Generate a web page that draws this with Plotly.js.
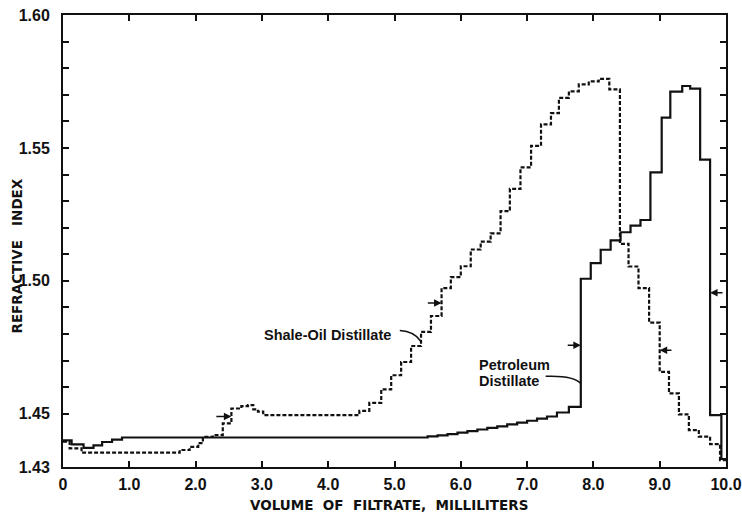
<!DOCTYPE html>
<html>
<head>
<meta charset="utf-8">
<script src="https://cdn.plot.ly/plotly-3.0.1.min.js"></script>
<style>
  html, body { margin: 0; padding: 0; background: #ffffff; }
  #chart { width: 742px; height: 514px; }
</style>
</head>
<body>
<div id="chart"></div>
<script>
// Fraction boundaries (ml) and refractive index of each collected fraction
const shaleEdges = [0, 0.10, 0.28, 1.76, 1.91, 2.04, 2.11, 2.26, 2.41, 2.54,
  2.69, 2.79, 2.87, 2.94, 3.02, 4.47, 4.62, 4.80, 4.95, 5.10,
  5.25, 5.40, 5.55, 5.71, 5.85, 6.00, 6.15, 6.30, 6.45, 6.60,
  6.74, 6.90, 7.06, 7.21, 7.36, 7.48, 7.63, 7.78, 7.93, 8.08,
  8.24, 8.40, 8.53, 8.68, 8.84, 9.00, 9.14, 9.29, 9.44, 9.59,
  9.76, 9.91];
const shaleRI = [1.4395, 1.4370, 1.4354, 1.4364, 1.4376, 1.4390, 1.4413, 1.4420, 1.4464, 1.4520,
  1.4529, 1.4533, 1.4517, 1.4508, 1.4495, 1.4511, 1.4541, 1.4592, 1.4645, 1.4695,
  1.4755, 1.4808, 1.4868, 1.4973, 1.5014, 1.5055, 1.5118, 1.5148, 1.5179, 1.5262,
  1.5346, 1.5427, 1.5508, 1.5589, 1.5631, 1.5688, 1.5713, 1.5739, 1.5750, 1.5760,
  1.5720, 1.5139, 1.5054, 1.4973, 1.4843, 1.4658, 1.4577, 1.4498, 1.4439, 1.4414,
  1.4386, 1.4326];

const petroEdges = [0, 0.13, 0.31, 0.46, 0.59, 0.74, 0.89, 5.50, 5.65, 5.80,
  5.95, 6.10, 6.25, 6.40, 6.55, 6.70, 6.85, 7.00, 7.15, 7.30,
  7.45, 7.63, 7.81, 7.96, 8.11, 8.26, 8.41, 8.56, 8.71, 8.86,
  9.03, 9.16, 9.34, 9.46, 9.61, 9.76, 9.93];
const petroRI = [1.4400, 1.4385, 1.4372, 1.4381, 1.4394, 1.4403, 1.4411, 1.4415, 1.4419, 1.4424,
  1.4429, 1.4435, 1.4441, 1.4447, 1.4453, 1.4460, 1.4467, 1.4474, 1.4482, 1.4490,
  1.4505, 1.4526, 1.5008, 1.5067, 1.5117, 1.5152, 1.5183, 1.5208, 1.5229, 1.5408,
  1.5614, 1.5712, 1.5733, 1.5723, 1.5456, 1.4495, 1.4330];

const totalVolume = 10.0;

// Half-way markers: [head x, tail x, refractive index]
const shaleMarks = [[2.54, 2.29, 1.4490], [5.71, 5.48, 1.4917], [9.00, 9.20, 1.4739]];
const petroMarks = [[7.81, 7.59, 1.4758], [9.76, 9.97, 1.4955]];

// Axis ticks
const xTickVals = [0, 1, 2, 3, 4, 5, 6, 7, 8, 9, 10];
const xTickText = ['0', '1.0', '2.0', '3.0', '4.0', '5.0', '6.0', '7.0', '8.0', '9.0', '10.0'];
const yTickVals = [1.43, 1.45, 1.46, 1.47, 1.48, 1.49, 1.50, 1.51, 1.52, 1.53, 1.54, 1.55, 1.56, 1.57, 1.58, 1.59, 1.60];
const yTickText = ['1.43', '1.45', '', '', '', '', '1.50', '', '', '', '', '1.55', '', '', '', '', '1.60'];

function stepTrace(edges, vals, dash) {
  return {
    x: edges.concat([totalVolume]),
    y: vals.concat([vals[vals.length - 1]]),
    mode: 'lines',
    line: { shape: 'hv', color: '#111111', width: 2.2, dash: dash },
    hoverinfo: 'skip',
    showlegend: false
  };
}

const ink = '#111111';
const labelFont = { family: 'Liberation Sans, Arial, sans-serif', size: 14.5, color: ink, weight: 'bold' };
const tickFont = { family: 'Liberation Sans, Arial, sans-serif', size: 16, color: ink, weight: 'bold' };
const titleFont = { family: 'DejaVu Sans, Verdana, sans-serif', size: 13.5, color: ink, weight: 'bold' };

function markArrow(m) {
  return {
    x: m[0], y: m[2], ax: m[1], ay: m[2],
    xref: 'x', yref: 'y', axref: 'x', ayref: 'y',
    text: '', showarrow: true,
    arrowhead: 2, arrowsize: 1, arrowwidth: 1.5, arrowcolor: ink
  };
}

function textLabel(txt, x, y, xanchor) {
  return {
    x: x, y: y, xref: 'x', yref: 'y', text: txt,
    showarrow: false, font: labelFont, xanchor: xanchor, yanchor: 'middle'
  };
}

const data = [
  stepTrace(shaleEdges, shaleRI, '4px,2px'),
  stepTrace(petroEdges, petroRI, 'solid')
];

const annotations = shaleMarks.concat(petroMarks).map(markArrow).concat([
  textLabel('Shale-Oil Distillate', 4.98, 1.4796, 'right'),
  textLabel('Petroleum', 6.24, 1.4682, 'left'),
  textLabel('Distillate', 6.24, 1.4623, 'left'),
  // axis titles
  {
    x: 0.492, y: -0.084, xref: 'paper', yref: 'paper',
    text: 'VOLUME\u00a0 OF\u00a0 FILTRATE,\u00a0 MILLILITERS',
    showarrow: false, font: titleFont, xanchor: 'center', yanchor: 'middle'
  },
  {
    x: -0.07, y: 0.467, xref: 'paper', yref: 'paper',
    text: 'REFRACTIVE\u00a0\u00a0 INDEX', textangle: -90,
    showarrow: false, font: titleFont, xanchor: 'center', yanchor: 'middle'
  }
]);

const shapes = [
  { type: 'path', xref: 'x', yref: 'y', path: 'M 5.08 1.4813 Q 5.30 1.4810 5.40 1.4772',
    line: { color: ink, width: 1.5 } },
  { type: 'path', xref: 'x', yref: 'y', path: 'M 7.28 1.4641 Q 7.70 1.4645 7.81 1.4614',
    line: { color: ink, width: 1.5 } }
];

const layout = {
  width: 742, height: 514,
  margin: { l: 63, r: 16, t: 15, b: 47 },
  paper_bgcolor: '#ffffff', plot_bgcolor: '#ffffff',
  showlegend: false,
  xaxis: {
    range: [0, 10], tickvals: xTickVals, ticktext: xTickText,
    ticks: 'inside', ticklen: 6, tickwidth: 2, tickcolor: ink,
    showline: true, linewidth: 2, linecolor: ink, mirror: 'ticks',
    showgrid: false, zeroline: false, tickfont: tickFont, ticklabelstandoff: 2,
    ticklabeloverflow: 'allow'
  },
  yaxis: {
    range: [1.43, 1.60], tickvals: yTickVals, ticktext: yTickText,
    ticks: 'inside', ticklen: 6, tickwidth: 2, tickcolor: ink,
    showline: true, linewidth: 2, linecolor: ink, mirror: 'ticks',
    showgrid: false, zeroline: false, tickfont: tickFont, ticklabelstandoff: 8,
    ticklabeloverflow: 'allow'
  },
  annotations: annotations,
  shapes: shapes
};

Plotly.newPlot('chart', data, layout, { staticPlot: true, displayModeBar: false });
</script>
</body>
</html>
